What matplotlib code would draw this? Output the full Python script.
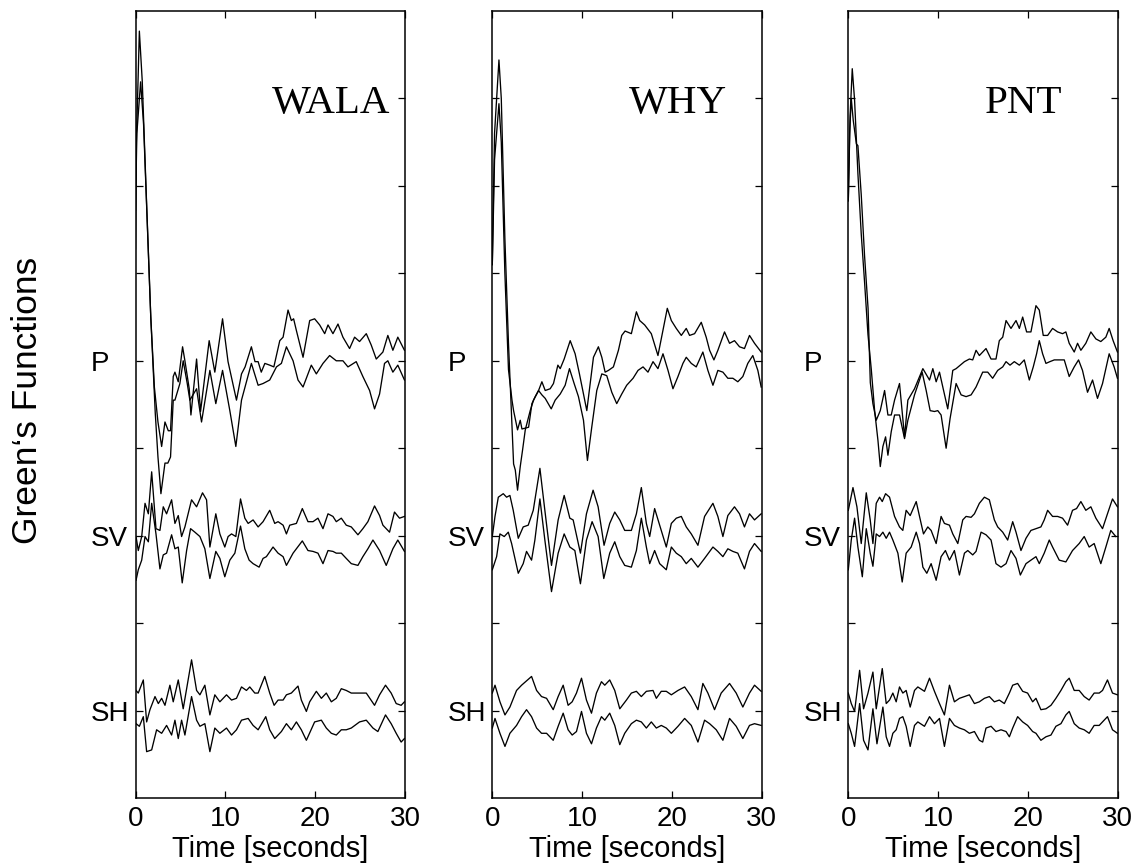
import matplotlib
matplotlib.use("Agg")
import matplotlib.pyplot as plt

# ---------------- data (time in s, trace values in plot units) ----------------
stations = ["WALA", "WHY", "PNT"]
phase_labels = ["SH", "SV", "P"]
phase_ticks = [1, 3, 5]
x_ticks = [0, 10, 20, 30]

# WALA
wala_p1_t = [0, 0.15, 0.57, 0.9, 1.3, 1.7, 2.1, 2.5, 2.91, 3.28, 3.65, 3.9, 4.2, 4.39, 4.76, 5.24, 5.5, 5.98, 6.17, 6.8, 7.24, 8.2, 8.83, 9.69, 10.3, 11.24, 11.8, 12.2, 12.9, 13.3, 13.65, 14.0, 14.4, 14.94, 15.4, 16.06, 16.43, 16.98, 17.35, 17.6, 17.9, 18.65, 19.39, 19.94, 20.5, 21.06, 21.43, 21.98, 22.54, 23.09, 23.83, 24.39, 24.94, 25.69, 26.24, 26.8, 27.54, 28.09, 28.65, 29.2, 29.94]
wala_p1_y = [6.72, 7.6, 8.19, 7.7, 6.6, 5.5, 4.7, 4.3, 4.02, 4.3, 4.2, 4.2, 4.82, 4.87, 4.76, 5.16, 5.0, 4.68, 4.38, 5.02, 4.42, 5.23, 4.87, 5.48, 4.99, 4.55, 4.85, 4.93, 5.16, 4.99, 4.99, 4.87, 4.97, 4.95, 4.93, 5.23, 5.27, 5.58, 5.46, 5.48, 5.35, 5.04, 5.46, 5.48, 5.41, 5.31, 5.41, 5.31, 5.42, 5.27, 5.14, 5.27, 5.22, 5.31, 5.18, 5.02, 5.1, 5.29, 5.12, 5.27, 5.12]
wala_p2_t = [0, 0.1, 0.43, 0.75, 1.2, 1.7, 2.2, 2.5, 2.83, 3.28, 3.6, 3.9, 4.2, 4.39, 4.94, 5.31, 5.76, 6.05, 6.8, 7.35, 8.28, 8.94, 9.69, 10.5, 11.17, 11.8, 12.35, 12.9, 13.65, 14.2, 14.94, 15.69, 16.24, 16.8, 17.54, 18.09, 18.65, 19.57, 20.13, 20.87, 21.61, 22.35, 23.09, 23.65, 24.57, 25.31, 26.06, 26.61, 27.17, 27.72, 28.09, 28.65, 29.2, 29.94]
wala_p2_y = [6.28, 7.5, 8.77, 8.2, 6.9, 5.5, 4.4, 3.9, 3.48, 3.83, 3.83, 3.9, 4.55, 4.55, 4.74, 5.0, 4.74, 4.55, 4.68, 4.3, 4.89, 4.51, 4.89, 4.43, 4.02, 4.55, 4.76, 4.97, 4.72, 4.74, 4.78, 4.93, 4.97, 5.16, 5.0, 4.78, 4.7, 4.95, 4.85, 4.97, 5.06, 5.0, 5.0, 4.93, 4.99, 4.82, 4.66, 4.45, 4.62, 4.97, 5.0, 4.87, 4.95, 4.78]
wala_sv1_t = [0.06, 0.31, 0.69, 1.06, 1.43, 1.8, 2.28, 2.72, 3.09, 3.46, 4.02, 4.39, 4.76, 5.13, 5.5, 6.24, 6.8, 7.46, 7.91, 8.28, 8.94, 9.39, 9.94, 10.31, 10.69, 11.17, 11.69, 12.17, 12.54, 13.09, 13.65, 14.2, 14.94, 15.5, 15.87, 16.43, 16.8, 17.17, 17.91, 18.57, 19.2, 19.76, 20.31, 20.87, 21.43, 21.98, 22.35, 22.91, 23.46, 24.02, 24.76, 25.31, 25.87, 26.61, 27.17, 27.54, 28.28, 28.83, 29.39, 29.94]
wala_sv1_y = [2.99, 2.83, 2.99, 3.37, 3.25, 3.73, 3.08, 3.06, 3.33, 3.25, 3.41, 3.14, 3.23, 2.99, 3.1, 3.41, 3.33, 3.49, 3.41, 2.87, 3.25, 3.02, 2.87, 2.99, 3.02, 2.99, 3.42, 3.2, 3.14, 3.18, 3.1, 3.16, 3.29, 3.14, 3.16, 3.12, 3.02, 3.12, 3.14, 3.31, 3.16, 3.16, 3.2, 3.08, 3.25, 3.22, 3.16, 3.2, 3.12, 3.1, 3.01, 3.08, 3.16, 3.34, 3.23, 3.12, 3.04, 3.27, 3.2, 3.22]
wala_sv2_t = [0.06, 0.31, 0.69, 1.06, 1.43, 1.8, 2.28, 2.72, 3.09, 3.46, 4.02, 4.39, 4.76, 5.2, 5.69, 6.13, 6.61, 7.17, 7.72, 8.28, 8.94, 9.39, 9.94, 10.5, 11.06, 11.69, 12.17, 12.65, 13.09, 13.76, 14.2, 14.57, 15.31, 15.87, 16.43, 16.8, 17.54, 18.57, 19.2, 19.76, 20.31, 20.87, 21.43, 21.98, 22.35, 22.91, 23.46, 24.02, 24.76, 25.31, 25.87, 26.43, 27.17, 27.91, 28.65, 29.2, 29.94]
wala_sv2_y = [2.49, 2.61, 2.72, 2.99, 2.93, 3.37, 3.02, 2.62, 2.78, 2.8, 3.01, 2.85, 2.87, 2.46, 2.83, 3.08, 3.04, 2.99, 2.85, 2.51, 2.82, 2.74, 2.53, 2.72, 2.8, 3.11, 2.85, 2.72, 2.68, 2.64, 2.74, 2.76, 2.87, 2.8, 2.76, 2.66, 2.8, 2.94, 2.83, 2.82, 2.8, 2.68, 2.83, 2.82, 2.8, 2.8, 2.74, 2.68, 2.66, 2.76, 2.85, 2.95, 2.83, 2.66, 2.85, 2.95, 2.82]
wala_sh1_t = [0.06, 0.31, 0.87, 1.24, 1.61, 2.17, 2.54, 2.91, 3.28, 3.83, 4.2, 4.76, 5.31, 6.24, 6.8, 7.17, 7.72, 8.28, 8.83, 9.39, 10.13, 10.69, 11.24, 11.8, 12.35, 12.72, 13.28, 13.65, 14.39, 14.94, 15.43, 15.87, 16.43, 16.8, 17.35, 18.09, 18.46, 19.02, 19.39, 20.13, 20.69, 21.24, 21.8, 22.35, 22.91, 23.46, 24.02, 24.94, 25.69, 26.61, 27.17, 27.83, 28.46, 29.02, 29.57, 29.94]
wala_sh1_y = [1.23, 1.2, 1.35, 0.87, 1.01, 1.16, 1.08, 1.14, 1.06, 1.29, 1.1, 1.35, 1.02, 1.58, 1.23, 1.18, 1.29, 0.95, 1.18, 1.1, 1.18, 1.12, 1.14, 1.27, 1.23, 1.27, 1.2, 1.2, 1.39, 1.2, 1.06, 1.12, 1.12, 1.18, 1.2, 1.28, 1.12, 0.99, 1.1, 1.22, 1.14, 1.2, 1.1, 1.14, 1.25, 1.23, 1.2, 1.2, 1.2, 1.06, 1.18, 1.29, 1.2, 1.08, 1.06, 1.1]
wala_sh2_t = [0.06, 0.43, 0.87, 1.24, 1.8, 2.35, 2.91, 3.46, 4.02, 4.39, 4.76, 5.13, 5.5, 6.24, 6.8, 7.17, 7.72, 8.28, 8.83, 9.39, 10.13, 10.69, 11.24, 11.8, 12.54, 13.09, 13.65, 14.5, 14.94, 15.5, 16.24, 16.8, 17.35, 17.91, 18.46, 19.02, 19.94, 20.69, 21.24, 21.8, 22.35, 22.91, 23.46, 24.02, 24.94, 25.69, 26.43, 26.98, 27.83, 28.46, 29.02, 29.57, 29.94]
wala_sh2_y = [0.85, 0.82, 0.93, 0.53, 0.55, 0.78, 0.74, 0.83, 0.72, 0.89, 0.68, 0.89, 0.72, 1.16, 0.89, 0.82, 0.85, 0.53, 0.8, 0.74, 0.8, 0.72, 0.78, 0.89, 0.91, 0.83, 0.78, 0.93, 0.78, 0.68, 0.76, 0.85, 0.78, 0.87, 0.78, 0.66, 0.87, 0.89, 0.8, 0.74, 0.72, 0.78, 0.78, 0.8, 0.87, 0.89, 0.8, 0.76, 0.95, 0.85, 0.74, 0.64, 0.68]

# WHY
why_p1_t = [0, 0.25, 0.74, 1.0, 1.4, 1.8, 2.19, 2.37, 2.81, 3.11, 3.3, 3.67, 4.04, 4.41, 4.78, 5.15, 5.52, 5.89, 6.44, 6.81, 7.3, 7.56, 8.0, 8.67, 9.22, 9.7, 10.15, 10.52, 11.26, 11.81, 12.19, 12.56, 12.93, 13.48, 14.04, 14.41, 14.78, 15.48, 16.04, 16.41, 16.96, 17.7, 18.44, 19.0, 19.48, 19.93, 20.48, 21.04, 21.59, 21.96, 22.52, 23.26, 23.81, 24.19, 24.67, 25.11, 25.85, 26.41, 26.96, 27.52, 28.07, 28.63, 29.19, 29.93]
why_p1_y = [6.1, 7.3, 7.94, 7.5, 6.0, 4.9, 4.55, 4.43, 4.21, 4.32, 4.22, 4.23, 4.24, 4.51, 4.59, 4.66, 4.76, 4.66, 4.68, 4.74, 4.95, 4.91, 5.02, 5.23, 5.08, 4.85, 4.62, 4.43, 5.04, 5.16, 5.04, 4.87, 4.89, 4.93, 5.12, 5.29, 5.34, 5.31, 5.56, 5.46, 5.41, 5.31, 5.06, 5.35, 5.6, 5.46, 5.37, 5.29, 5.37, 5.29, 5.31, 5.44, 5.27, 5.12, 5.01, 5.12, 5.33, 5.2, 5.23, 5.16, 5.14, 5.29, 5.2, 5.1]
why_p2_t = [0, 0.25, 0.74, 1.0, 1.4, 1.8, 2.05, 2.37, 2.56, 2.81, 3.11, 3.37, 3.67, 4.22, 4.59, 5.15, 5.52, 5.89, 6.56, 7.0, 7.56, 8.11, 8.59, 9.11, 9.59, 10.15, 10.59, 11.07, 11.63, 12.19, 12.74, 13.3, 13.85, 14.41, 14.96, 15.67, 16.22, 16.78, 17.33, 17.89, 18.44, 19.0, 19.56, 20.11, 20.67, 21.22, 21.59, 22.15, 22.7, 23.44, 24.0, 24.56, 25.11, 25.67, 26.22, 26.78, 27.33, 27.89, 28.44, 29.0, 29.56, 29.93]
why_p2_y = [6.1, 7.6, 8.44, 8.0, 6.4, 5.2, 4.6, 3.82, 3.75, 3.52, 3.79, 3.98, 4.21, 4.43, 4.55, 4.66, 4.61, 4.57, 4.45, 4.55, 4.62, 4.72, 4.91, 4.74, 4.59, 4.32, 3.86, 4.24, 4.66, 4.85, 4.83, 4.64, 4.51, 4.62, 4.72, 4.8, 4.89, 4.93, 4.87, 4.99, 4.91, 5.08, 4.89, 4.68, 4.82, 4.97, 5.04, 4.97, 4.93, 5.1, 4.89, 4.72, 4.89, 4.87, 4.8, 4.8, 4.76, 4.82, 4.97, 5.06, 4.89, 4.7]
why_sv1_t = [0, 0.3, 0.67, 1.22, 1.59, 1.96, 2.33, 2.89, 3.44, 4.0, 4.56, 5.3, 5.85, 6.59, 7.33, 8.0, 8.63, 9.0, 9.81, 10.48, 11.22, 11.78, 12.44, 13.07, 13.63, 14.19, 14.74, 15.48, 16.04, 16.59, 17.15, 17.52, 18.07, 18.63, 19.37, 19.93, 20.48, 21.04, 21.59, 22.15, 22.89, 23.63, 24.56, 25.11, 25.67, 26.22, 26.96, 27.52, 28.07, 28.63, 29.19, 29.93]
why_sv1_y = [2.99, 3.22, 3.44, 3.48, 3.44, 3.46, 3.29, 2.97, 3.1, 3.12, 3.29, 3.77, 3.29, 2.66, 3.18, 3.46, 3.2, 3.18, 2.8, 3.25, 3.52, 3.33, 2.89, 3.14, 3.27, 3.18, 3.06, 3.06, 3.25, 3.55, 3.14, 2.99, 3.31, 3.12, 2.87, 3.14, 3.2, 3.22, 3.1, 3.02, 2.89, 3.22, 3.37, 3.22, 2.99, 3.23, 3.33, 3.25, 3.1, 3.25, 3.18, 3.25]
why_sv2_t = [0, 0.48, 0.85, 1.33, 1.78, 2.15, 2.89, 3.44, 3.81, 4.37, 4.74, 5.3, 5.85, 6.59, 7.33, 8.0, 8.63, 9.19, 9.81, 10.48, 11.11, 11.78, 12.41, 13.07, 13.63, 14.19, 14.74, 15.48, 16.04, 16.59, 17.15, 17.52, 18.07, 18.63, 19.37, 19.93, 20.48, 21.04, 21.59, 22.15, 22.89, 23.63, 24.56, 25.11, 25.67, 26.22, 26.78, 27.33, 28.07, 28.63, 29.19, 29.93]
why_sv2_y = [2.61, 2.76, 3.02, 2.99, 3.04, 2.91, 2.57, 2.68, 2.82, 2.72, 2.95, 3.42, 2.95, 2.36, 2.8, 3.02, 2.87, 2.83, 2.45, 2.95, 3.16, 2.99, 2.51, 2.8, 2.93, 2.76, 2.66, 2.64, 2.83, 3.2, 2.87, 2.68, 2.83, 2.68, 2.61, 2.87, 2.8, 2.76, 2.68, 2.74, 2.64, 2.74, 2.87, 2.82, 2.76, 2.85, 2.82, 2.8, 2.62, 2.82, 2.91, 2.82]
why_sh1_t = [0, 0.3, 0.85, 1.41, 1.96, 2.7, 3.26, 4.37, 4.93, 5.48, 6.04, 6.78, 7.33, 7.89, 8.44, 8.89, 9.37, 9.93, 10.48, 11.04, 11.59, 12.15, 12.52, 13.07, 13.63, 14.19, 14.93, 15.48, 16.04, 16.59, 17.15, 17.89, 18.26, 18.81, 19.37, 19.93, 20.67, 21.41, 22.15, 22.89, 23.44, 24.0, 24.74, 25.48, 26.41, 27.15, 27.89, 28.63, 29.19, 29.93]
why_sh1_y = [1.2, 1.29, 1.1, 0.95, 1.04, 1.23, 1.29, 1.39, 1.23, 1.16, 1.14, 1.01, 1.16, 1.29, 1.06, 1.1, 1.2, 1.37, 1.12, 0.97, 1.2, 1.33, 1.29, 1.35, 1.23, 1.02, 1.12, 1.2, 1.22, 1.16, 1.22, 1.23, 1.14, 1.22, 1.22, 1.18, 1.23, 1.27, 1.16, 1.01, 1.31, 1.2, 1.01, 1.2, 1.31, 1.2, 1.04, 1.2, 1.29, 1.22]
why_sh2_t = [0, 0.3, 0.85, 1.41, 1.96, 2.7, 3.26, 3.81, 4.37, 4.93, 5.48, 6.04, 6.78, 7.33, 7.89, 8.44, 8.89, 9.37, 9.93, 10.48, 11.04, 11.59, 12.15, 12.52, 13.07, 13.63, 14.19, 14.74, 15.48, 16.04, 16.59, 17.15, 17.7, 18.26, 18.81, 19.37, 19.93, 20.67, 21.41, 22.15, 22.89, 23.63, 24.19, 24.93, 25.67, 26.41, 27.15, 27.89, 28.63, 29.19, 29.93]
why_sh2_y = [0.8, 0.91, 0.74, 0.59, 0.74, 0.83, 0.93, 1.01, 0.93, 0.8, 0.74, 0.74, 0.66, 0.82, 0.97, 0.78, 0.72, 0.76, 0.99, 0.74, 0.62, 0.8, 0.93, 0.89, 0.97, 0.83, 0.61, 0.74, 0.85, 0.89, 0.87, 0.8, 0.87, 0.8, 0.83, 0.8, 0.74, 0.82, 0.91, 0.83, 0.64, 0.89, 0.85, 0.78, 0.66, 0.91, 0.82, 0.68, 0.83, 0.85, 0.83]

# PNT
pnt_p1_t = [0, 0.15, 0.33, 0.55, 0.9, 1.07, 1.44, 1.81, 2.2, 2.45, 2.74, 3.11, 3.56, 4.04, 4.41, 4.78, 5.15, 5.7, 6.26, 6.63, 7.37, 8.3, 9.04, 9.41, 9.78, 10.15, 10.52, 11.07, 11.63, 12.0, 12.93, 13.48, 13.85, 14.22, 14.59, 15.33, 15.89, 16.44, 16.81, 17.19, 17.56, 18.11, 18.67, 19.04, 19.41, 19.85, 20.33, 20.89, 21.26, 21.7, 22.19, 22.74, 23.3, 23.85, 24.22, 24.59, 25.15, 25.52, 25.89, 26.44, 27.0, 27.56, 28.11, 28.67, 29.04, 29.48, 29.96]
pnt_p1_y = [6.83, 7.6, 8.0, 7.75, 7.48, 7.46, 6.9, 6.2, 5.6, 4.75, 4.51, 4.32, 4.43, 4.66, 4.38, 4.38, 4.55, 4.74, 4.13, 4.55, 4.68, 4.91, 4.78, 4.91, 4.76, 4.87, 4.7, 4.45, 4.89, 4.91, 4.99, 5.02, 5.01, 5.12, 5.06, 5.14, 5.02, 5.02, 5.23, 5.27, 5.46, 5.37, 5.46, 5.37, 5.5, 5.33, 5.33, 5.63, 5.58, 5.29, 5.29, 5.37, 5.33, 5.31, 5.33, 5.2, 5.1, 5.2, 5.12, 5.2, 5.33, 5.25, 5.22, 5.27, 5.37, 5.23, 5.1]
pnt_p2_t = [0, 0.2, 0.44, 0.7, 1.07, 1.44, 1.81, 2.19, 2.56, 2.93, 3.3, 3.56, 3.85, 4.15, 4.41, 4.78, 5.15, 5.7, 6.26, 6.63, 7.37, 8.22, 8.67, 9.11, 9.59, 9.96, 10.33, 10.89, 11.33, 12.0, 12.56, 13.11, 13.67, 14.22, 14.96, 15.52, 16.07, 16.63, 17.19, 17.56, 18.0, 18.48, 19.04, 19.59, 20.15, 20.59, 20.96, 21.26, 21.63, 22.0, 22.44, 22.93, 23.48, 24.04, 24.59, 25.15, 25.63, 26.07, 26.63, 27.19, 27.74, 28.3, 29.04, 29.59, 29.96]
pnt_p2_y = [6.83, 7.8, 8.34, 7.98, 7.14, 6.45, 5.9, 5.3, 4.9, 4.43, 4.09, 3.79, 4.02, 4.13, 3.92, 4.19, 4.38, 4.38, 4.11, 4.32, 4.61, 4.87, 4.66, 4.43, 4.42, 4.43, 4.38, 4.0, 4.34, 4.74, 4.61, 4.59, 4.61, 4.7, 4.87, 4.87, 4.8, 4.89, 4.93, 4.99, 4.95, 4.99, 4.95, 5.01, 4.78, 4.93, 5.08, 5.23, 5.08, 4.97, 4.99, 5.01, 5.01, 5.01, 4.82, 4.93, 5.01, 4.89, 4.64, 4.78, 4.57, 4.74, 5.08, 4.93, 4.8]
pnt_sv1_t = [0, 0.52, 0.96, 1.44, 2.0, 2.44, 2.74, 3.11, 3.48, 3.78, 4.15, 4.59, 5.15, 5.7, 6.07, 6.44, 6.89, 7.56, 7.93, 8.37, 8.85, 9.22, 9.78, 10.33, 10.7, 11.26, 11.63, 12.19, 12.74, 13.11, 13.67, 14.04, 14.59, 15.15, 15.7, 16.26, 16.63, 17.19, 17.74, 18.3, 18.67, 19.22, 19.78, 20.33, 20.89, 21.44, 21.81, 22.19, 22.74, 23.3, 23.85, 24.41, 24.96, 25.41, 25.89, 26.44, 27.0, 27.56, 28.3, 28.85, 29.41, 29.96]
pnt_sv1_y = [3.29, 3.55, 3.33, 2.91, 3.49, 3.18, 2.91, 3.37, 3.44, 3.39, 3.48, 3.44, 3.22, 3.1, 3.06, 3.29, 3.23, 3.39, 3.22, 3.02, 3.1, 3.06, 2.91, 3.22, 3.14, 3.12, 3.02, 2.91, 3.18, 3.22, 3.21, 3.25, 3.37, 3.44, 3.41, 3.18, 3.1, 3.04, 2.95, 3.16, 3.04, 2.83, 2.97, 3.06, 3.08, 3.1, 3.18, 3.29, 3.22, 3.22, 3.2, 3.12, 3.29, 3.31, 3.39, 3.29, 3.33, 3.2, 3.08, 3.25, 3.42, 3.33]
pnt_sv2_t = [0, 0.33, 0.7, 1.07, 1.56, 2.0, 2.44, 2.74, 3.11, 3.48, 3.85, 4.22, 4.59, 4.96, 5.52, 6.0, 6.44, 7.0, 7.56, 7.93, 8.3, 8.74, 9.22, 9.78, 10.33, 10.81, 11.26, 11.81, 12.37, 12.93, 13.3, 13.85, 14.22, 14.78, 15.33, 15.89, 16.44, 17.0, 17.56, 18.11, 18.67, 19.15, 19.78, 20.33, 20.89, 21.26, 21.81, 22.37, 22.74, 23.48, 24.22, 24.96, 25.7, 26.26, 26.81, 27.37, 28.11, 28.67, 29.22, 29.78]
pnt_sv2_y = [2.61, 2.95, 3.2, 2.87, 2.53, 3.08, 2.8, 2.65, 3.02, 2.99, 3.04, 2.97, 3.04, 2.95, 2.8, 2.47, 2.8, 2.87, 3.04, 2.91, 2.64, 2.57, 2.68, 2.49, 2.76, 2.83, 2.72, 2.83, 2.55, 2.8, 2.83, 2.78, 2.82, 3.04, 3.01, 2.95, 2.68, 2.64, 2.68, 2.83, 2.74, 2.55, 2.68, 2.72, 2.76, 2.68, 2.8, 2.95, 2.87, 2.72, 2.7, 2.83, 2.91, 2.99, 2.87, 2.91, 2.68, 2.87, 3.06, 2.99]
pnt_sh1_t = [0, 0.33, 0.7, 1.26, 1.7, 2.19, 2.74, 3.11, 3.78, 4.22, 4.59, 4.96, 5.33, 5.7, 6.07, 6.44, 6.89, 7.37, 7.74, 8.48, 9.04, 9.59, 10.15, 10.7, 11.26, 11.81, 12.37, 12.93, 13.48, 14.04, 14.59, 15.15, 15.7, 16.26, 16.81, 17.37, 17.93, 18.3, 18.85, 19.41, 19.96, 20.52, 20.89, 21.44, 22.0, 22.56, 23.11, 23.67, 24.22, 24.59, 25.15, 25.7, 26.26, 26.81, 27.37, 27.93, 28.3, 28.85, 29.41, 29.96]
pnt_sh1_y = [1.2, 1.08, 0.99, 1.46, 1.02, 1.2, 1.44, 1.02, 1.48, 1.08, 1.12, 1.2, 1.1, 1.27, 1.2, 1.23, 1.04, 1.23, 1.27, 1.22, 1.37, 1.22, 1.08, 0.95, 1.29, 1.1, 1.14, 1.16, 1.18, 1.08, 1.1, 1.14, 1.16, 1.1, 1.12, 1.08, 1.2, 1.29, 1.31, 1.22, 1.2, 1.1, 1.14, 1.01, 1.02, 1.06, 1.14, 1.23, 1.33, 1.37, 1.23, 1.23, 1.16, 1.12, 1.2, 1.2, 1.23, 1.35, 1.2, 1.18]
pnt_sh2_t = [0, 0.33, 0.7, 1.26, 1.7, 2.19, 2.74, 3.19, 3.85, 4.22, 4.59, 4.96, 5.33, 5.7, 6.07, 6.44, 6.89, 7.37, 7.74, 8.48, 9.04, 9.59, 10.15, 10.7, 11.26, 11.81, 12.37, 12.93, 13.48, 14.04, 14.59, 14.96, 15.33, 15.89, 16.44, 17.0, 17.56, 17.93, 18.3, 18.85, 19.41, 19.96, 20.52, 20.89, 21.44, 22.0, 22.56, 23.11, 23.67, 24.22, 24.59, 25.15, 25.7, 26.26, 26.81, 27.37, 27.93, 28.48, 28.85, 29.41, 29.96]
pnt_sh2_y = [0.85, 0.74, 0.59, 1.08, 0.66, 0.55, 1.02, 0.62, 1.04, 0.7, 0.59, 0.74, 0.78, 0.91, 0.93, 0.82, 0.59, 0.83, 0.87, 0.82, 0.93, 0.85, 0.91, 0.59, 0.91, 0.83, 0.8, 0.78, 0.74, 0.76, 0.66, 0.64, 0.8, 0.82, 0.76, 0.78, 0.76, 0.7, 0.8, 0.93, 0.87, 0.83, 0.76, 0.74, 0.66, 0.7, 0.72, 0.82, 0.85, 0.95, 0.99, 0.85, 0.8, 0.78, 0.74, 0.83, 0.83, 0.89, 0.93, 0.78, 0.74]

traces = {
    "WALA": [(wala_p1_t, wala_p1_y), (wala_p2_t, wala_p2_y), (wala_sv1_t, wala_sv1_y),
             (wala_sv2_t, wala_sv2_y), (wala_sh1_t, wala_sh1_y), (wala_sh2_t, wala_sh2_y)],
    "WHY": [(why_p1_t, why_p1_y), (why_p2_t, why_p2_y), (why_sv1_t, why_sv1_y),
            (why_sv2_t, why_sv2_y), (why_sh1_t, why_sh1_y), (why_sh2_t, why_sh2_y)],
    "PNT": [(pnt_p1_t, pnt_p1_y), (pnt_p2_t, pnt_p2_y), (pnt_sv1_t, pnt_sv1_y),
            (pnt_sv2_t, pnt_sv2_y), (pnt_sh1_t, pnt_sh1_y), (pnt_sh2_t, pnt_sh2_y)],
}

# ---------------- figure ----------------
W, H = 1139, 864
fig = plt.figure(figsize=(W / 100, H / 100), dpi=100)
sans = ["Liberation Sans", "DejaVu Sans"]
serif = ["Liberation Serif", "DejaVu Serif"]

lefts_px = [135.5, 492.3, 848.3]
ax_w_px = 269.5
ax_top_px, ax_bot_px = 11, 798

for name, lpx in zip(stations, lefts_px):
    ax = fig.add_axes([lpx / W, 1 - ax_bot_px / H, ax_w_px / W, (ax_bot_px - ax_top_px) / H])
    for t, y in traces[name]:
        ax.plot(t, y, color="black", lw=0.95, solid_joinstyle="round")
    ax.set_xlim(0, 30)
    ax.set_ylim(0, 9)
    ax.set_xticks(x_ticks)
    ax.set_xticklabels([str(v) for v in x_ticks], fontfamily=sans, fontsize=20)
    ax.set_yticks(range(1, 9))
    ax.set_yticklabels([phase_labels[phase_ticks.index(v)] if v in phase_ticks else "" for v in range(1, 9)],
                       fontfamily=sans, fontsize=20, ha="left")
    ax.tick_params(axis="both", direction="in", length=5, width=0.9,
                   top=True, right=True)
    ax.tick_params(axis="x", pad=6)
    ax.tick_params(axis="y", pad=32)
    for s in ax.spines.values():
        s.set_linewidth(1.1)
    ax.set_xlabel("Time [seconds]", fontfamily=sans, fontsize=21, labelpad=2)
    ax.text(15.2, 7.83, name, fontfamily=serif, fontsize=29.5, ha="left", va="baseline")

fig.text(28 / W, 1 - 400 / H, "Green\u2018s Functions", rotation=90, fontfamily=sans,
         fontsize=25.5, ha="center", va="center")

fig.savefig("out.png", dpi=100)
